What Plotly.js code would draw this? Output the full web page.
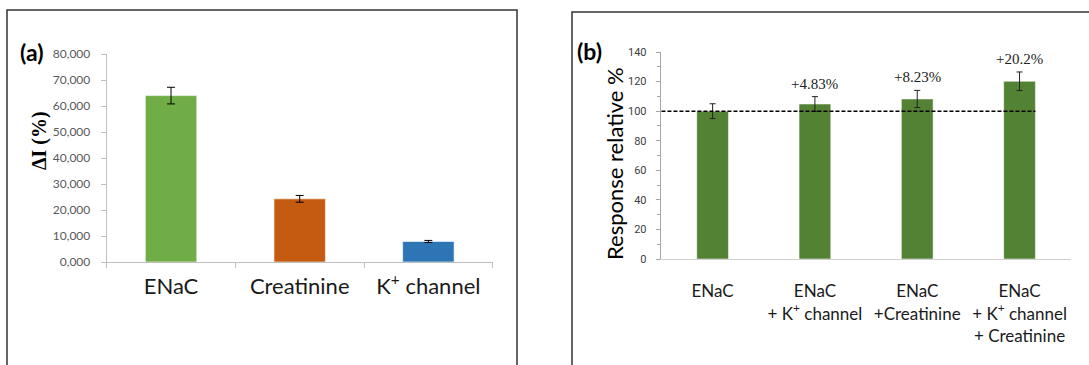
<!DOCTYPE html>
<html>
<head>
<meta charset="utf-8">
<script src="https://cdn.plot.ly/plotly-3.0.1.min.js"></script>
<style>html,body{margin:0;padding:0;background:#fff;}#chart{width:1089px;height:365px;}</style>
</head>
<body>
<div id="chart"></div>
<script>
// ----- Panel (a) data -----
const catsA = ['ENaC', 'Creatinine', 'K<sup>+</sup> channel'];
const valsA = [64000, 24300, 7900];
const errA = [3200, 1300, 400];
const colorsA = ['#70AD47', '#C55A11', '#2E75B6'];
const tickValsA = [0, 10000, 20000, 30000, 40000, 50000, 60000, 70000, 80000];
const tickTextA = ['0,000', '10,000', '20,000', '30,000', '40,000', '50,000', '60,000', '70,000', '80,000'];
const yTitleA = '<b>ΔI (%)</b>';

// ----- Panel (b) data -----
const catsB = ['ENaC', 'ENaC<br>+ K<sup>+</sup> channel', 'ENaC<br>+Creatinine', 'ENaC<br>+ K<sup>+</sup> channel<br>+ Creatinine'];
const valsB = [100, 104.83, 108.23, 120.2];
const errB = [5, 5, 5.8, 6.3];
const pctLabelsB = ['', '+4.83%', '+8.23%', '+20.2%'];
const refLineB = 100;
const yTitleB = 'Response relative %';

const W = 1089, H = 365;
const px = x => x / W;
const py = y => 1 - y / H;

const barWidthB = 0.31;

const traceA = {
  type: 'bar', x: catsA, y: valsA, xaxis: 'x', yaxis: 'y',
  marker: {color: colorsA, line: {color: 'rgba(255,255,255,0.6)', width: 1}},
  width: 0.4,
  error_y: {type: 'data', array: errA, visible: true, color: '#000', thickness: 1, width: 4},
  hoverinfo: 'x+y'
};
const traceB = {
  type: 'bar', x: catsB, y: valsB, xaxis: 'x2', yaxis: 'y2',
  marker: {color: '#548235', line: {color: 'rgba(255,255,255,0.5)', width: 1}},
  width: barWidthB,
  error_y: {type: 'data', array: errB, visible: true, color: '#222', thickness: 1, width: 3},
  hoverinfo: 'x+y'
};

const annotations = [
  {text: '<b>(a)</b>', xref: 'paper', yref: 'paper', x: px(31), y: py(52), showarrow: false,
   font: {family: 'Lato, Open Sans, sans-serif', size: 23, color: '#000'}, xanchor: 'center', yanchor: 'middle'},
  {text: '<b>(b)</b>', xref: 'paper', yref: 'paper', x: px(589), y: py(51), showarrow: false,
   font: {family: 'Lato, Open Sans, sans-serif', size: 23, color: '#000'}, xanchor: 'center', yanchor: 'middle'},
  {text: yTitleA, xref: 'paper', yref: 'paper', x: px(39), y: py(141), showarrow: false, textangle: -90,
   font: {family: 'Liberation Serif, Times New Roman, serif', size: 20, color: '#000'}, xanchor: 'center', yanchor: 'middle'},
  {text: yTitleB, xref: 'paper', yref: 'paper', x: px(615), y: py(164), showarrow: false, textangle: -90,
   font: {family: 'Lato, Open Sans, sans-serif', size: 22, color: '#000'}, xanchor: 'center', yanchor: 'middle'}
];
catsB.forEach((c, i) => {
  if (pctLabelsB[i]) {
    annotations.push({text: pctLabelsB[i], xref: 'x2', yref: 'y2', x: c, y: valsB[i] + errB[i],
      yanchor: 'bottom', yshift: 3, showarrow: false,
      font: {family: 'Liberation Serif, Times New Roman, serif', size: 15, color: '#222'}});
  }
});

const layout = {
  width: W, height: H,
  margin: {l: 0, r: 0, t: 0, b: 0},
  paper_bgcolor: '#fff', plot_bgcolor: 'rgba(0,0,0,0)',
  showlegend: false,
  bargap: 0.6,
  xaxis: {
    domain: [px(106.7), px(492.7)], anchor: 'y',
    showline: true, linecolor: '#BFBFBF', linewidth: 1,
    ticks: 'outside', tickson: 'boundaries', ticklen: 5, tickcolor: '#BFBFBF',
    showgrid: false, zeroline: false, tickangle: 0,
    tickfont: {family: 'Lato, Open Sans, sans-serif', size: 22, color: '#1a1a1a'},
    ticklabelstandoff: 5
  },
  yaxis: {
    domain: [py(262), py(54)], anchor: 'x', range: [0, 80000],
    showline: true, linecolor: '#BFBFBF', linewidth: 1,
    ticks: 'outside', ticklen: 5, tickcolor: '#BFBFBF',
    tickvals: tickValsA, ticktext: tickTextA,
    showgrid: false, zeroline: false,
    tickfont: {family: 'Lato, Open Sans, sans-serif', size: 12, color: '#595959'},
    ticklabelstandoff: 8
  },
  xaxis2: {
    domain: [px(660.7), px(1070.7)], anchor: 'y2',
    showline: true, linecolor: '#D0D0D0', linewidth: 1,
    ticks: '', showgrid: false, zeroline: false, tickangle: 0,
    tickfont: {family: 'Lato, Open Sans, sans-serif', size: 17, color: '#1a1a1a'},
    ticklabelstandoff: 17
  },
  yaxis2: {
    domain: [py(259), py(52)], anchor: 'x2', range: [0, 140],
    showline: true, linecolor: '#A6A6A6', linewidth: 1,
    ticks: 'outside', ticklen: 4, tickcolor: '#A6A6A6', dtick: 20, tick0: 0,
    minor: {dtick: 10, ticks: 'outside', ticklen: 3, tickcolor: '#A6A6A6', showgrid: false},
    showgrid: false, zeroline: false,
    tickfont: {family: 'Roboto, Lato, sans-serif', size: 11, color: '#404040'},
    ticklabelstandoff: 7
  },
  shapes: [
    {type: 'rect', xref: 'paper', yref: 'paper', x0: px(7), x1: px(517), y0: py(10), y1: py(380),
     line: {color: '#333', width: 1.5}, fillcolor: 'rgba(0,0,0,0)', layer: 'below'},
    {type: 'rect', xref: 'paper', yref: 'paper', x0: px(572), x1: px(1100), y0: py(12), y1: py(380),
     line: {color: '#333', width: 1.5}, fillcolor: 'rgba(0,0,0,0)', layer: 'below'},
    {type: 'line', xref: 'x2', yref: 'y2', x0: -0.5, x1: catsB.length - 1 + barWidthB / 2, y0: refLineB, y1: refLineB,
     line: {color: '#000', width: 1.5, dash: '4px,2px'}}
  ],
  annotations: annotations
};

Plotly.newPlot('chart', [traceA, traceB], layout, {displayModeBar: false, staticPlot: true});
</script>
</body>
</html>
